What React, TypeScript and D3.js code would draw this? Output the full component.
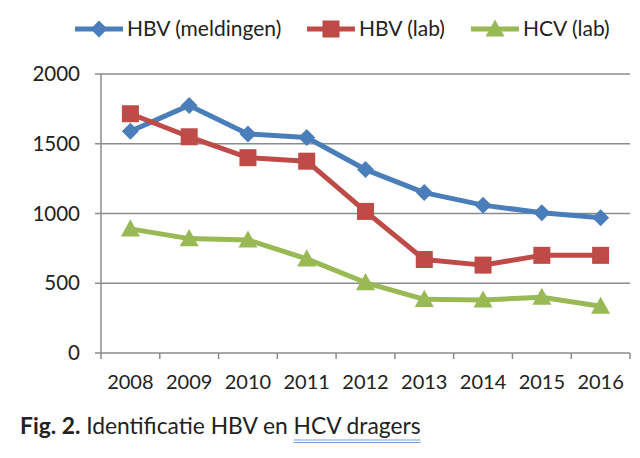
import React, { useLayoutEffect, useRef, useState } from "react";
import * as d3 from "d3";

const years = ["2008", "2009", "2010", "2011", "2012", "2013", "2014", "2015", "2016"];
const hbvMeldingen = [1590, 1775, 1570, 1545, 1315, 1150, 1060, 1005, 970];
const hbvLab = [1715, 1550, 1400, 1375, 1015, 670, 630, 700, 700];
const hcvLab = [890, 820, 810, 675, 505, 385, 380, 400, 335];
const yTicks = [0, 500, 1000, 1500, 2000];

const seriesNames = ["HBV (meldingen)", "HBV (lab)", "HCV (lab)"];
const seriesColors = ["#4a7ebb", "#be4b48", "#98b954"];
const seriesShapes = ["diamond", "square", "triangle"];

const W = 640, H = 458;
const left = 101, right = 630, top = 74, bottom = 353;
const FONT = "Lato, 'Open Sans', sans-serif";

function Marker({ shape, x, y, color }: { shape: string; x: number; y: number; color: string }) {
  if (shape === "diamond") {
    const s = 8.5;
    return <path d={`M${x},${y - s}L${x + s},${y}L${x},${y + s}L${x - s},${y}Z`} fill={color} />;
  }
  if (shape === "square") {
    const s = 8.5;
    return <rect x={x - s} y={y - s} width={2 * s} height={2 * s} fill={color} />;
  }
  const s = 9.5;
  return <path d={`M${x},${y - s}L${x + s},${y + s * 0.8}L${x - s},${y + s * 0.8}Z`} fill={color} />;
}

export default function App() {
  const x = d3.scaleBand<string>().domain(years).range([left, right]);
  const y = d3.scaleLinear().domain([0, 2000]).range([bottom, top]);
  const data = [hbvMeldingen, hbvLab, hcvLab];
  const line = d3
    .line<number>()
    .x((_, i) => (x(years[i]) as number) + x.bandwidth() / 2)
    .y((d) => y(d));
  const legendX = [75, 307, 471];

  const ulRef = useRef<SVGTSpanElement>(null);
  const [ul, setUl] = useState<[number, number]>([296, 421]);
  useLayoutEffect(() => {
    const el = ulRef.current as any;
    if (el && el.getBBox) {
      const b = el.getBBox();
      if (b.width > 0) setUl([b.x, b.x + b.width]);
    }
  }, []);

  return (
    <svg width={W} height={H} style={{ position: "absolute", left: 0, top: 0, background: "#fff" }}>
      <rect width={W} height={H} fill="#fff" />
      {yTicks.filter((t) => t > 0).map((t) => (
        <line key={t} x1={left} x2={right} y1={y(t)} y2={y(t)} stroke="#8c8c8c" strokeWidth={1.3} />
      ))}
      <line x1={left} x2={left} y1={top} y2={bottom} stroke="#8c8c8c" strokeWidth={1.5} />
      <line x1={left} x2={right} y1={bottom} y2={bottom} stroke="#8c8c8c" strokeWidth={1.5} />
      {yTicks.map((t) => (
        <g key={t}>
          <line x1={left - 6} x2={left} y1={y(t)} y2={y(t)} stroke="#8c8c8c" strokeWidth={1.5} />
          <text x={80} y={y(t)} dy="0.35em" textAnchor="end" fontFamily={FONT} fontSize={20.5} fill="#222">
            {t}
          </text>
        </g>
      ))}
      {years.concat(["end"]).map((yr, i) => {
        const xx = left + i * x.bandwidth();
        return <line key={yr} x1={xx} x2={xx} y1={bottom} y2={bottom + 6} stroke="#8c8c8c" strokeWidth={1.5} />;
      })}
      {years.map((yr) => (
        <text key={yr} x={(x(yr) as number) + x.bandwidth() / 2} y={389} textAnchor="middle" fontFamily={FONT} fontSize={20} fill="#222">
          {yr}
        </text>
      ))}
      {data.map((d, si) => (
        <g key={si}>
          <path d={line(d) as string} fill="none" stroke={seriesColors[si]} strokeWidth={5} strokeLinejoin="round" />
          {d.map((v, i) => (
            <Marker key={i} shape={seriesShapes[si]} x={(x(years[i]) as number) + x.bandwidth() / 2} y={y(v)} color={seriesColors[si]} />
          ))}
        </g>
      ))}
      {seriesNames.map((n, si) => (
        <g key={n}>
          <line x1={legendX[si]} x2={legendX[si] + 48} y1={29} y2={29} stroke={seriesColors[si]} strokeWidth={5} />
          <Marker shape={seriesShapes[si]} x={legendX[si] + 24} y={29} color={seriesColors[si]} />
          <text x={legendX[si] + 52} y={29} dy="0.35em" fontFamily={FONT} fontSize={21} fill="#222">
            {n}
          </text>
        </g>
      ))}
      <text x={20} y={434} fontFamily={FONT} fontSize={22.8} fill="#222">
        <tspan fontWeight="bold">Fig. 2.</tspan>
        <tspan> Identificatie HBV en </tspan>
        <tspan ref={ulRef}>HCV dragers</tspan>
      </text>
      <line x1={ul[0]} x2={ul[1]} y1={440} y2={440} stroke="#7a9fd8" strokeWidth={1} />
      <line x1={ul[0]} x2={ul[1]} y1={442.5} y2={442.5} stroke="#7a9fd8" strokeWidth={1} />
    </svg>
  );
}
